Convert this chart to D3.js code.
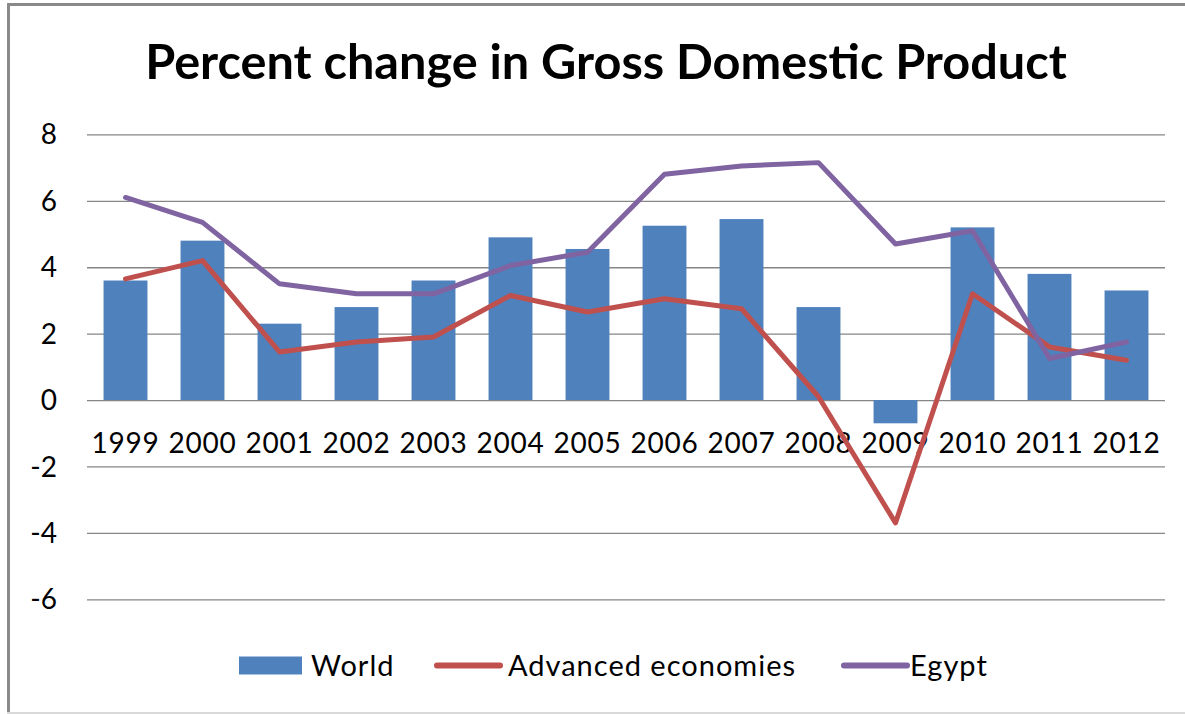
<!DOCTYPE html>
<html>
<head>
<meta charset="utf-8">
<script src="https://cdnjs.cloudflare.com/ajax/libs/d3/7.8.5/d3.min.js"></script>
<style>
  html, body { margin: 0; padding: 0; background: #fff; }
  svg { display: block; }
</style>
</head>
<body>
<div id="chart"></div>
<script>
// Values
const years = ["1999","2000","2001","2002","2003","2004","2005","2006","2007","2008","2009","2010","2011","2012"];
const world = [3.6, 4.8, 2.3, 2.8, 3.6, 4.9, 4.55, 5.25, 5.45, 2.8, -0.7, 5.2, 3.8, 3.3];
const advanced = [3.65, 4.2, 1.45, 1.75, 1.9, 3.15, 2.65, 3.05, 2.75, 0.1, -3.7, 3.2, 1.6, 1.2];
const egypt = [6.1, 5.35, 3.5, 3.2, 3.2, 4.05, 4.45, 6.8, 7.05, 7.15, 4.7, 5.1, 1.25, 1.75];
const yTicks = [-6, -4, -2, 0, 2, 4, 6, 8];
const seriesNames = ["World", "Advanced economies", "Egypt"];

const width = 1185;
const height = 714;
const colors = { World: "#4F81BD", "Advanced economies": "#C0504D", Egypt: "#8064A2" };
const font = "Lato, 'Open Sans', sans-serif";

const svg = d3.select("#chart")
  .append("svg")
  .attr("width", width)
  .attr("height", height);

// chart frame (left + top dark, bottom light, right is cut off)
svg.append("line").attr("x1", 8.5).attr("x2", 8.5).attr("y1", 3).attr("y2", 714)
  .attr("stroke", "#8a8a8a").attr("stroke-width", 3);
svg.append("line").attr("x1", 7).attr("x2", width).attr("y1", 4.5).attr("y2", 4.5)
  .attr("stroke", "#8a8a8a").attr("stroke-width", 3);
svg.append("line").attr("x1", 7).attr("x2", width).attr("y1", 713).attr("y2", 713)
  .attr("stroke", "#d9d9d9").attr("stroke-width", 2);

// scales
const x = d3.scaleBand().domain(years).range([87, 1165])
  .paddingInner(0.43).paddingOuter(0.215);
const y = d3.scaleLinear().domain([-6, 8]).range([599.3, 134.4]);
const cx = d => x(d) + x.bandwidth() / 2;

// title, sized so it spans the same width as the picture
const title = svg.append("text")
  .attr("x", 606)
  .attr("y", 79)
  .attr("text-anchor", "middle")
  .attr("font-family", font)
  .attr("font-weight", "bold")
  .attr("font-size", 46)
  .attr("fill", "#000")
  .text("Percent change in Gross Domestic Product");
const tw = title.node().getComputedTextLength();
title.attr("font-size", 46 * 922 / tw);

// gridlines + y axis labels (plain hyphen for negatives, like Excel)
const yAxis = d3.axisLeft(y).tickValues(yTicks).tickFormat(d => String(d))
  .tickSize(-(1165 - 87)).tickPadding(30);
const gy = svg.append("g").attr("transform", "translate(87,0)").call(yAxis);
gy.select(".domain").remove();
gy.selectAll(".tick line").attr("stroke", "#868686").attr("stroke-width", 1.3);
gy.selectAll(".tick text")
  .attr("font-family", font)
  .attr("font-size", 28)
  .attr("fill", "#000")
  .attr("dy", "0.34em");

// bars
svg.append("g").selectAll("rect")
  .data(years)
  .enter()
  .append("rect")
  .attr("x", d => x(d))
  .attr("width", x.bandwidth())
  .attr("y", (d, i) => y(Math.max(0, world[i])))
  .attr("height", (d, i) => Math.abs(y(world[i]) - y(0)))
  .attr("fill", colors.World);

// category labels sit just under the zero line
const xAxis = d3.axisBottom(x).tickSize(0).tickPadding(33);
const gx = svg.append("g").attr("transform", "translate(0," + y(0) + ")").call(xAxis);
gx.select(".domain").remove();
gx.selectAll(".tick text")
  .attr("font-family", font)
  .attr("font-size", 28)
  .attr("letter-spacing", "0.8px")
  .attr("fill", "#000");

// lines, drawn over the labels like in the picture
const line = d3.line()
  .x(d => cx(d.year))
  .y(d => y(d.value));

[["Advanced economies", advanced], ["Egypt", egypt]].forEach(([name, values]) => {
  svg.append("path")
    .datum(years.map((yr, i) => ({ year: yr, value: values[i] })))
    .attr("d", line)
    .attr("fill", "none")
    .attr("stroke", colors[name])
    .attr("stroke-width", 5)
    .attr("stroke-linejoin", "round")
    .attr("stroke-linecap", "round");
});

// legend
const legendY = 665.5;
const legend = svg.append("g");
const legendPos = [
  { name: seriesNames[0], sx: 239, tx: 311 },
  { name: seriesNames[1], sx: 434, tx: 508 },
  { name: seriesNames[2], sx: 841, tx: 910 }
];
legendPos.forEach((d, i) => {
  if (i === 0) {
    legend.append("rect")
      .attr("x", d.sx).attr("y", legendY - 9)
      .attr("width", 63).attr("height", 18)
      .attr("fill", colors[d.name]);
  } else {
    legend.append("line")
      .attr("x1", d.sx + 3).attr("x2", d.sx + 66)
      .attr("y1", legendY).attr("y2", legendY)
      .attr("stroke", colors[d.name])
      .attr("stroke-width", 6)
      .attr("stroke-linecap", "round");
  }
  legend.append("text")
    .attr("x", d.tx)
    .attr("y", legendY)
    .attr("dy", "0.36em")
    .attr("font-family", font)
    .attr("font-size", 29)
    .attr("letter-spacing", "1px")
    .attr("fill", "#000")
    .text(d.name);
});
</script>
</body>
</html>
